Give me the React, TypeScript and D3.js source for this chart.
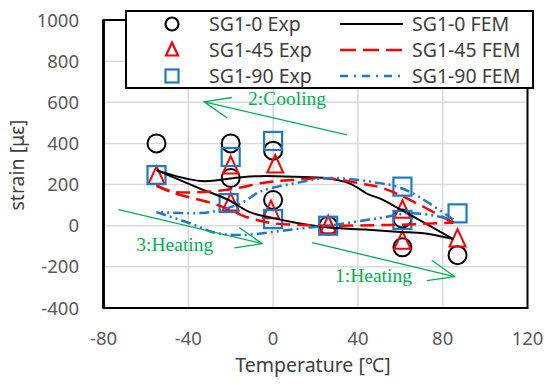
import React from "react";
import * as d3 from "d3";

// ---- data ----
const xTicks = [-80, -40, 0, 40, 80, 120];
const yTicks = [-400, -200, 0, 200, 400, 600, 800, 1000];

const sg0ExpT = [-55, -20, -20, 0, 0, 26, 61, 61, 87];
const sg0ExpV = [400, 400, 232, 365, 125, 0, 35, -105, -143];
const sg45ExpT = [-55, -20, -20, 1, -1, 26, 61, 61, 87];
const sg45ExpV = [240, 290, 110, 295, 73, 0, 75, -75, -65];
const sg90ExpT = [-55, -20, -21, 0, 0, 26, 61, 61, 87];
const sg90ExpV = [246, 334, 110, 412, 32, 0, 190, 28, 60];

const sg0FemLowT = [-55, -35, -21, -11, 0, 9, 25, 44, 60, 71, 85];
const sg0FemLowV = [270, 183, 125, 66, 37, 18, -8, -19, -30, -37, -65];
const sg0FemUpT = [85, 60, 50, 45, 36, 25, 10, -6, -15, -34, -55];
const sg0FemUpV = [-65, 80, 134, 152, 206, 231, 238, 241, 236, 217, 270];

const sg45FemLowT = [-55, -47, -26, -11, 0, 13, 26, 50, 60, 85];
const sg45FemLowV = [195, 160, 100, 37, 12, 4, 0, 3, 5, 15];
const sg45FemUpT = [85, 60, 50, 41, 25, 9, 0, -6, -23, -47, -55];
const sg45FemUpV = [15, 148, 188, 206, 231, 222, 215, 206, 173, 165, 195];

const sg90FemLowT = [-55, -39, -27, -15, 0, 13, 26, 50, 66, 85];
const sg90FemLowV = [66, 11, -35, -45, -30, -13, 0, 37, 61, 30];
const sg90FemUpT = [85, 66, 56, 50, 41, 25, 13, -6, -15, -25, -34, -55];
const sg90FemUpV = [30, 157, 197, 207, 222, 231, 212, 166, 110, 76, 62, 66];

const legendLabels = ["SG1-0 Exp", "SG1-45 Exp", "SG1-90 Exp", "SG1-0 FEM", "SG1-45 FEM", "SG1-90 FEM"];

// annotations
const annLabels = ["2:Cooling", "3:Heating", "1:Heating"];
const annTextT = [-11.8, -64.5, 29.2];
const annTextV = [588, -121, -276];
const annTailT = [34.8, -72.9, 18.4];
const annTailV = [442, 78, -82];
const annTipT = [-32.5, -5.2, 85.6];
const annTipV = [602, -87, -247];

const BLACK = "#000000";
const RED = "#ff0000";
const BLUE = "#1f78c8";
const GREEN = "#00b050";

const zip = (a: number[], b: number[]) => a.map((t, i) => [t, b[i]] as [number, number]);

export default function App() {
  const W = 545, H = 385;
  const x = d3.scaleLinear().domain([-80, 120]).range([103.5, 527.5]);
  const y = d3.scaleLinear().domain([-400, 1000]).range([308, 20]);
  const line = d3
    .line<[number, number]>()
    .x((d) => x(d[0]))
    .y((d) => y(d[1]))
    .curve(d3.curveCatmullRom.alpha(0.5));

  const tri = (cx: number, cy: number) =>
    `M${cx},${cy - 10}L${cx + 8},${cy + 7.5}L${cx - 8},${cy + 7.5}Z`;

  const circles = (T: number[], V: number[]) =>
    zip(T, V).map((d, i) => (
      <circle key={i} cx={x(d[0])} cy={y(d[1])} r={9} fill="none" stroke={BLACK} strokeWidth={2} />
    ));
  const tris = (T: number[], V: number[]) =>
    zip(T, V).map((d, i) => (
      <path key={i} d={tri(x(d[0]), y(d[1]))} fill="none" stroke={RED} strokeWidth={2} />
    ));
  const squares = (T: number[], V: number[]) =>
    zip(T, V).map((d, i) => (
      <rect key={i} x={x(d[0]) - 9} y={y(d[1]) - 9} width={18} height={18} fill="none" stroke={BLUE} strokeWidth={2.2} />
    ));

  const femStyles = [
    { color: BLACK, dash: undefined as string | undefined, w: 2 },
    { color: RED, dash: "14,7", w: 2.5 },
    { color: BLUE, dash: "10,4,2,4,2,4", w: 2.5 },
  ];
  const femSets = [
    [zip(sg0FemLowT, sg0FemLowV), zip(sg0FemUpT, sg0FemUpV)],
    [zip(sg45FemLowT, sg45FemLowV), zip(sg45FemUpT, sg45FemUpV)],
    [zip(sg90FemLowT, sg90FemLowV), zip(sg90FemUpT, sg90FemUpV)],
  ];

  const font = "'Noto Sans', 'Open Sans', sans-serif";
  const arrowHead = (x0: number, y0: number, x1: number, y1: number) => {
    const ang = Math.atan2(y0 - y1, x0 - x1);
    const L = 28, a = (22 * Math.PI) / 180;
    const p1 = [x1 + L * Math.cos(ang + a), y1 + L * Math.sin(ang + a)];
    const p2 = [x1 + L * Math.cos(ang - a), y1 + L * Math.sin(ang - a)];
    return `M${p1[0]},${p1[1]}L${x1},${y1}L${p2[0]},${p2[1]}`;
  };

  return (
    <div style={{ position: "absolute", left: 0, top: 0 }}>
      <svg width={W} height={H} style={{ display: "block", background: "#fff" }}>
        <rect width={W} height={H} fill="#fff" />
        {/* gridlines */}
        {yTicks.slice(1, -1).map((t) => (
          <line key={"gy" + t} x1={x(-80)} x2={x(120)} y1={y(t)} y2={y(t)} stroke="#d9d9d9" strokeWidth={1.5} />
        ))}
        {xTicks.slice(1, -1).map((t) => (
          <line key={"gx" + t} x1={x(t)} x2={x(t)} y1={y(-400)} y2={y(1000)} stroke="#d9d9d9" strokeWidth={1.5} />
        ))}
        {/* frame */}
        <rect x={x(-80)} y={y(1000)} width={x(120) - x(-80)} height={y(-400) - y(1000)} fill="none" stroke="#000" strokeWidth={2} />
        <line x1={x(-80)} x2={x(-80)} y1={y(1000)} y2={y(-400)} stroke="#000" strokeWidth={2.8} />
        {/* tick labels */}
        {yTicks.map((t) => (
          <text key={"ty" + t} x={79} y={y(t) + 6.5} textAnchor="end" fontFamily={font} fontSize={18.5} fill="#595959">
            {t}
          </text>
        ))}
        {xTicks.map((t) => (
          <text key={"tx" + t} x={x(t)} y={345} textAnchor="middle" fontFamily={font} fontSize={18.5} fill="#595959">
            {t}
          </text>
        ))}
        <text x={313} y={372} textAnchor="middle" fontFamily={font} fontSize={19.5} fill="#404040">
          Temperature [℃]
        </text>
        <text transform="translate(24,165) rotate(-90)" textAnchor="middle" fontFamily={font} fontSize={19.5} fill="#404040">
          strain [με]
        </text>

        {/* exp markers */}
        {circles(sg0ExpT, sg0ExpV)}
        {tris(sg45ExpT, sg45ExpV)}
        {squares(sg90ExpT, sg90ExpV)}

        {/* FEM lines */}
        {femSets.map((set, si) =>
          set.map((pts, pi) => (
            <path
              key={si + "-" + pi}
              d={line(pts) || ""}
              fill="none"
              stroke={femStyles[si].color}
              strokeWidth={femStyles[si].w}
              strokeDasharray={femStyles[si].dash}
            />
          ))
        )}

        {/* annotations */}
        {annLabels.map((lab, i) => {
          const x0 = x(annTailT[i]), y0 = y(annTailV[i]), x1 = x(annTipT[i]), y1 = y(annTipV[i]);
          return (
            <g key={"ann" + i}>
              <line x1={x0} y1={y0} x2={x1} y2={y1} stroke={GREEN} strokeWidth={1.3} />
              <path d={arrowHead(x0, y0, x1, y1)} fill="none" stroke={GREEN} strokeWidth={1.3} />
              <text x={x(annTextT[i])} y={y(annTextV[i])} fontFamily="'Liberation Serif', 'Times New Roman', serif" fontSize={19.5} fill={GREEN}>
                {lab}
              </text>
            </g>
          );
        })}

        {/* legend */}
        <rect x={126} y={11} width={407} height={77} fill="#fff" stroke="#000" strokeWidth={2} />
        {[0, 1, 2].map((i) => {
          const cy = 24 + i * 26;
          return (
            <g key={"lg" + i}>
              {i === 0 && <circle cx={172} cy={cy} r={6.5} fill="none" stroke={BLACK} strokeWidth={2.2} />}
              {i === 1 && (
                <path d={`M172,${cy - 7.5}L178,${cy + 5.5}L166,${cy + 5.5}Z`} fill="none" stroke={RED} strokeWidth={2.2} />
              )}
              {i === 2 && <rect x={165.5} y={cy - 6.5} width={13} height={13} fill="none" stroke={BLUE} strokeWidth={2.2} />}
              <text x={209} y={cy + 7} fontFamily={font} fontSize={19.5} fill="#404040">
                {legendLabels[i]}
              </text>
              <line
                x1={340}
                x2={403}
                y1={cy}
                y2={cy}
                stroke={femStyles[i].color}
                strokeWidth={femStyles[i].w}
                strokeDasharray={i === 1 ? "16,7" : i === 2 ? "8,6,2,6" : undefined}
              />
              <text x={412} y={cy + 7} fontFamily={font} fontSize={19.5} fill="#404040">
                {legendLabels[i + 3]}
              </text>
            </g>
          );
        })}
      </svg>
    </div>
  );
}
